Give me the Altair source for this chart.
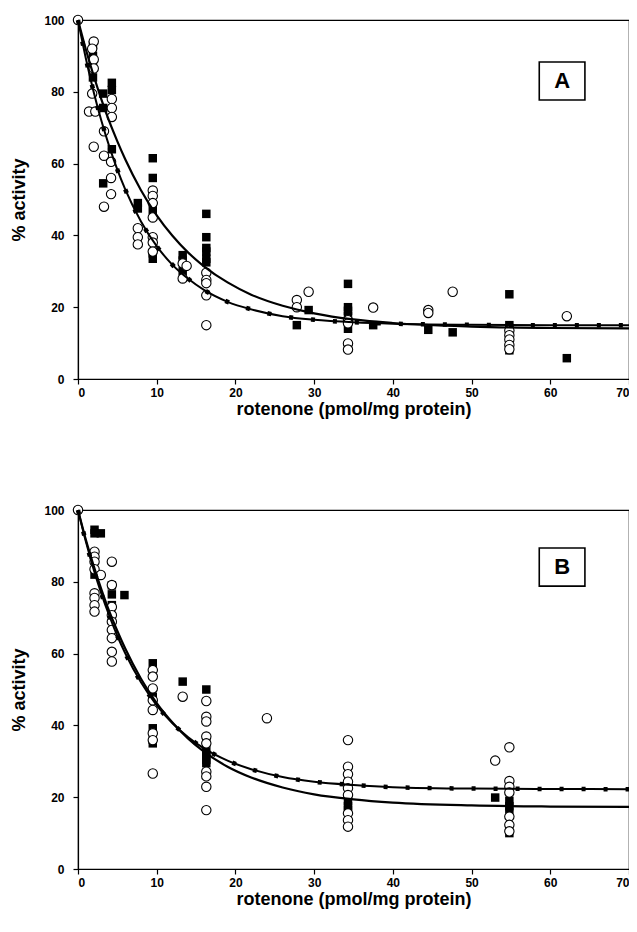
import altair as alt
import pandas as pd

FONT = "Liberation Sans, Arial, Helvetica, sans-serif"
X_TITLE = "rotenone (pmol/mg protein)"
Y_TITLE = "% activity"
X_TICKS = [0, 10, 20, 30, 40, 50, 60, 70]
Y_TICKS = [0, 20, 40, 60, 80, 100]

# ---------------- Panel A data ----------------
A_sq_x = [1.9, 1.9, 1.9, 1.9, 3.2, 3.2, 3.2, 4.3, 4.3, 4.3, 7.6, 7.6,
          9.5, 9.5, 9.5, 9.5, 9.5, 13.3, 13.3, 13.3,
          16.3, 16.3, 16.3, 16.3, 16.3, 16.3, 27.8, 29.3,
          34.3, 34.3, 34.3, 34.3, 34.3, 37.5, 44.5, 47.6,
          54.8, 54.8, 54.8, 54.8, 62.1]
A_sq_y = [93, 90, 88, 84, 79.5, 75.5, 54.5, 82.5, 80.5, 64, 49, 47.5,
          61.5, 56, 47, 35, 33.5, 34.5, 33, 30,
          46, 39.5, 36.5, 35.5, 33.5, 32.5, 15, 19.2,
          26.5, 20, 19, 17.5, 14, 15, 13.7, 13,
          23.6, 15, 14.2, 8, 5.8]

A_ci_x = [0, 2.0, 1.8, 2.0, 2.0, 1.8, 1.4, 2.2, 2.0,
          3.3, 3.3, 3.3, 4.3, 4.3, 4.3, 4.2, 4.2, 4.2,
          7.6, 7.6, 7.6, 9.5, 9.5, 9.5, 9.5, 9.5, 9.5, 9.5,
          13.3, 13.8, 13.3, 16.3, 16.3, 16.3, 16.3, 16.3,
          27.8, 27.8, 29.3, 34.3, 34.3, 34.3, 34.3, 37.5,
          44.5, 44.5, 47.6, 54.8, 54.8, 54.8, 54.8, 54.8, 62.1]
A_ci_y = [100, 94, 92, 89, 86.5, 79.5, 74.5, 74.5, 64.7,
          69, 62.2, 48, 78, 75.5, 73, 60.5, 56, 51.5,
          42, 39.5, 37.5, 52.5, 51, 49, 45, 39.5, 38, 35.5,
          32.2, 31.5, 28, 29.6, 27.6, 26.7, 23.3, 15,
          22, 20, 24.3, 16.4, 15.5, 9.9, 8.2, 19.9,
          19.2, 18.4, 24.3, 13.5, 12.2, 11, 9.5, 8.3, 17.5]

# fitted curves
CURVE_X = [0, 1, 2, 3, 4, 5, 6, 8, 10, 12, 14, 16, 19, 22, 26, 30, 35, 40, 50, 60, 70]
A_solid = [100, 91.8, 84.4, 77.7, 71.6, 66.2, 61.2, 52.6, 45.6, 39.9, 35.2, 31.4,
           26.9, 23.5, 20.4, 18.3, 16.6, 15.6, 14.6, 14.2, 14.1]
A_dotted = [100, 89.3, 79.9, 71.7, 64.6, 58.3, 52.8, 43.9, 37.0, 31.8, 27.9, 24.8,
            21.5, 19.4, 17.5, 16.5, 15.8, 15.4, 15.1, 15.0, 15.0]

# ---------------- Panel B data ----------------
B_sq_x = [2.1, 2.1, 2.1, 2.9, 4.3, 4.3, 4.3, 4.3, 5.9,
          9.5, 9.5, 9.5, 9.5, 9.5, 13.3,
          16.3, 16.3, 16.3, 16.3, 16.3, 16.3,
          34.3, 34.3, 34.3, 53.0, 54.8, 54.8, 54.8, 54.8]
B_sq_y = [94.5, 93.5, 82, 93.5, 79, 76.5, 73.5, 70.5, 76.3,
          57.3, 48, 39.2, 36, 35, 52.2,
          50, 35, 32.7, 31.8, 30.4, 29.5,
          19, 17.5, 16.5, 19.9, 19, 17.5, 16, 10]

B_ci_x = [0, 2.1, 2.1, 2.1, 2.1, 2.1, 2.1, 2.1, 2.1, 2.9,
          4.3, 4.3, 4.3, 4.3, 4.3, 4.3, 4.3, 4.3, 4.3,
          9.5, 9.5, 9.5, 9.5, 9.5, 9.5, 9.5, 9.5, 13.3,
          16.3, 16.3, 16.3, 16.3, 16.3, 16.3, 16.3, 16.3, 16.3, 24.0,
          34.3, 34.3, 34.3, 34.3, 34.3, 34.3, 34.3, 34.3, 34.3, 53.0,
          54.8, 54.8, 54.8, 54.8, 54.8, 54.8, 54.8]
B_ci_y = [100, 88.4, 87, 85.6, 83.5, 76.8, 75.5, 73.5, 71.7, 81.9,
          85.6, 79.1, 73, 70.7, 68.9, 66.6, 64.3, 60.5, 57.8,
          55.4, 53.6, 50.3, 47, 44.3, 37.8, 35.9, 26.6, 48,
          46.8, 42.4, 41.1, 36.9, 35, 27.1, 25.8, 22.9, 16.4, 42,
          35.9, 28.5, 26.4, 24.3, 22.5, 20.6, 15.5, 13.6, 11.8, 30.2,
          33.9, 24.5, 22.9, 21.3, 14.6, 12.3, 10.5]

B_solid = [100, 91.7, 84.4, 77.7, 71.6, 66.3, 61.4, 53.0, 46.2, 40.8, 36.3, 32.7,
           28.5, 25.5, 22.7, 20.8, 19.4, 18.5, 17.7, 17.4, 17.3]
B_dotted = [100, 91.2, 83.4, 76.5, 70.4, 64.9, 60.1, 52.0, 45.6, 40.6, 36.7, 33.6,
            30.2, 27.8, 25.6, 24.3, 23.4, 22.8, 22.4, 22.3, 22.2]

# panel letter boxes (data coordinates)
A_box = {"x": 58.6, "x2": 64.4, "y": 77.7, "y2": 88.3, "tx": 61.5, "ty": 83.0, "label": "A"}
B_box = {"x": 58.6, "x2": 64.4, "y": 78.8, "y2": 89.4, "tx": 61.5, "ty": 84.1, "label": "B"}


def enc_x(field):
    return alt.X(field, scale=alt.Scale(domain=[0, 70], nice=False),
                 axis=alt.Axis(values=X_TICKS, title=X_TITLE))


def enc_y(field):
    return alt.Y(field, scale=alt.Scale(domain=[0, 100], nice=False),
                 axis=alt.Axis(values=Y_TICKS, title=Y_TITLE))


def make_panel(sq_x, sq_y, ci_x, ci_y, solid_y, dotted_y, box):
    xs, ys = enc_x("x:Q"), enc_y("y:Q")

    sq = alt.Chart(pd.DataFrame({"x": sq_x, "y": sq_y})).mark_point(
        shape="square", filled=True, color="black", size=72, opacity=1
    ).encode(x=xs, y=ys)

    ci = alt.Chart(pd.DataFrame({"x": ci_x, "y": ci_y})).mark_point(
        shape="circle", filled=True, fill="white", stroke="black",
        strokeWidth=1.1, size=88, opacity=1
    ).encode(x=xs, y=ys)

    cdf_s = pd.DataFrame({"x": CURVE_X, "y": solid_y})
    cdf_d = pd.DataFrame({"x": CURVE_X, "y": dotted_y})
    solid = alt.Chart(cdf_s).mark_line(color="black", strokeWidth=2.2,
                                        interpolate="monotone").encode(x=xs, y=ys)
    dotted = alt.Chart(cdf_d).mark_line(color="black", strokeWidth=2.0,
                                         interpolate="monotone").encode(x=xs, y=ys)
    dots = alt.Chart(cdf_d).mark_line(color="black", strokeWidth=4.5,
                                       strokeDash=[4, 18], interpolate="monotone"
                                       ).encode(x=xs, y=ys)

    bdf = pd.DataFrame([box])
    rect = alt.Chart(bdf).mark_rect(fill="white", stroke="black", strokeWidth=1.6).encode(
        x=enc_x("x:Q"), x2="x2:Q", y=enc_y("y:Q"), y2="y2:Q")
    txt = alt.Chart(bdf).mark_text(font=FONT, fontSize=22, fontWeight="bold",
                                   color="black", baseline="middle", align="center").encode(
        x=enc_x("tx:Q"), y=enc_y("ty:Q"), text="label:N")

    return alt.layer(sq, ci, solid, dotted, dots, rect, txt).properties(width=551, height=359)


panelA = make_panel(A_sq_x, A_sq_y, A_ci_x, A_ci_y, A_solid, A_dotted, A_box)
panelB = make_panel(B_sq_x, B_sq_y, B_ci_x, B_ci_y, B_solid, B_dotted, B_box)

chart = alt.vconcat(panelA, panelB, spacing=81).properties(
    padding={"left": 1, "top": 2, "right": -10, "bottom": 0}
).configure_view(
    stroke="black", strokeWidth=1.2
).configure_axis(
    grid=False, domainColor="black", domainWidth=1.2, tickColor="black", tickWidth=1.2,
    labelColor="black", titleColor="black", labelFont=FONT, titleFont=FONT,
    labelFontWeight="bold", titleFontWeight="bold", labelFontSize=12, titleFontSize=18,
    tickSize=5
).configure_axisX(
    labelPadding=3, titlePadding=2
).configure_axisY(
    labelPadding=9, titlePadding=15.5
)

chart.save("out.html", embed_options={"renderer": "svg", "actions": False})
